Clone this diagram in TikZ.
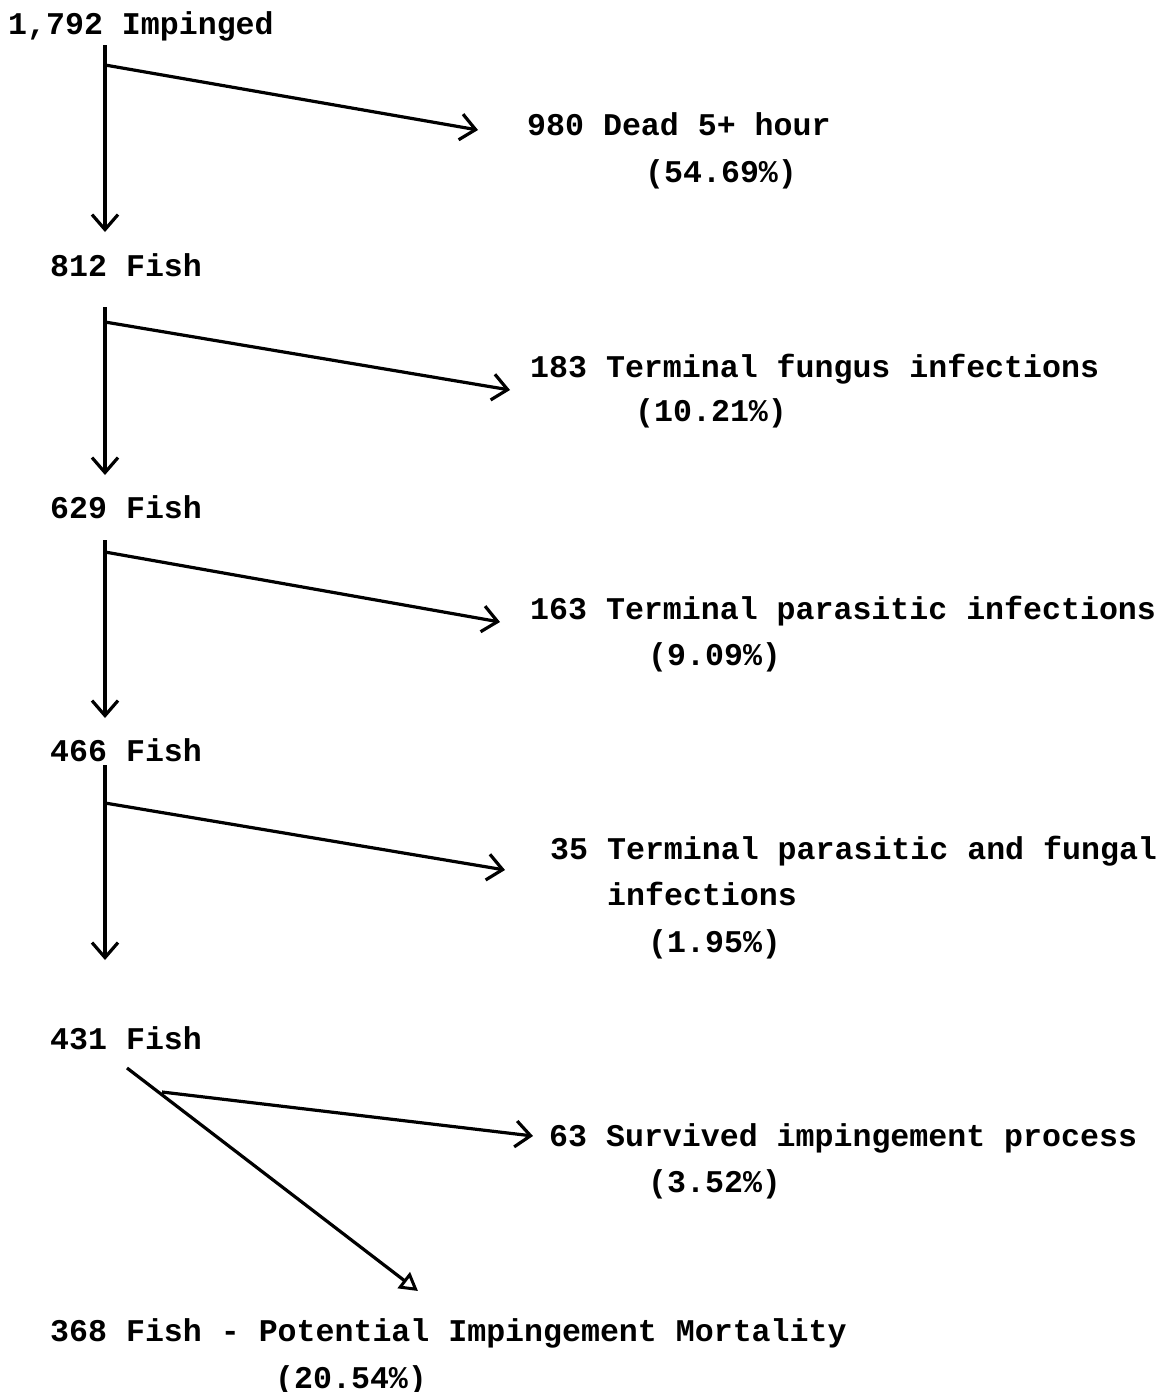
\documentclass[tikz,border=0pt]{standalone}
\usepackage{fontspec}
\setmonofont{Liberation Mono}
\usetikzlibrary{arrows.meta}
\tikzset{
  lbl/.style={anchor=base west, inner sep=0pt, font=\ttfamily\bfseries\fontsize{31.6}{36}\selectfont},
  conn/.style={line width=3.2pt, -{Straight Barb[length=15pt,width=26pt,line width=3.2pt]}},
  connlast/.style={line width=3.2pt, -{Triangle[open,length=18pt,width=20pt,line width=3pt]}}
}
\begin{document}
\begin{tikzpicture}[x=1pt,y=-1pt]
\useasboundingbox (0,0) rectangle (1163,1392);
% text nodes
\node[lbl] (n1792) at (8,34) {1,792 Impinged};
\node[lbl] (n980) at (527,135) {980 Dead 5+ hour};
\node[lbl] (p980) at (645,182) {(54.69\%)};
\node[lbl] (n812) at (50,276) {812 Fish};
\node[lbl] (n183) at (530,377) {183 Terminal fungus infections};
\node[lbl] (p183) at (635,421) {(10.21\%)};
\node[lbl] (n629) at (50,518) {629 Fish};
\node[lbl] (n163) at (530,619) {163 Terminal parasitic infections};
\node[lbl] (p163) at (648,665) {(9.09\%)};
\node[lbl] (n466) at (50,761) {466 Fish};
\node[lbl] (n35) at (550,859) {35 Terminal parasitic and fungal};
\node[lbl] (n35b) at (607,905) {infections};
\node[lbl] (p35) at (648,952) {(1.95\%)};
\node[lbl] (n431) at (50,1049) {431 Fish};
\node[lbl] (n63) at (549,1146) {63 Survived impingement process};
\node[lbl] (p63) at (648,1192) {(3.52\%)};
\node[lbl] (n368) at (50,1341) {368 Fish - Potential Impingement Mortality};
\node[lbl] (p368) at (275,1388) {(20.54\%)};
% connector points
\coordinate (v1s) at (105,45);   \coordinate (v1e) at (105,232);
\coordinate (d1s) at (105,65);   \coordinate (d1e) at (478,130);
\coordinate (v2s) at (105,307);  \coordinate (v2e) at (105,475);
\coordinate (d2s) at (105,322);  \coordinate (d2e) at (510,390);
\coordinate (v3s) at (105,540);  \coordinate (v3e) at (105,718);
\coordinate (d3s) at (105,552);  \coordinate (d3e) at (500,622);
\coordinate (v4s) at (105,765);  \coordinate (v4e) at (105,960);
\coordinate (d4s) at (105,803);  \coordinate (d4e) at (505,870);
\coordinate (l5s) at (127,1068); \coordinate (l5e) at (418,1291);
\coordinate (d5s) at (162,1092); \coordinate (d5e) at (533,1136);
% connectors
\draw[conn] (v1s) -- (v1e);
\draw[conn] (d1s) -- (d1e);
\draw[conn] (v2s) -- (v2e);
\draw[conn] (d2s) -- (d2e);
\draw[conn] (v3s) -- (v3e);
\draw[conn] (d3s) -- (d3e);
\draw[conn] (v4s) -- (v4e);
\draw[conn] (d4s) -- (d4e);
\draw[connlast] (l5s) -- (l5e);
\draw[conn] (d5s) -- (d5e);
\end{tikzpicture}
\end{document}
